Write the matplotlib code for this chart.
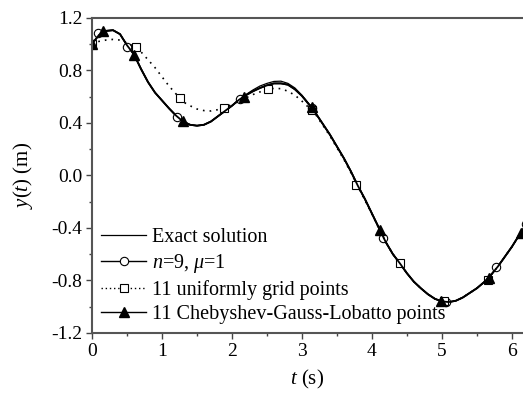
import numpy as np
import matplotlib
matplotlib.use("Agg")
import matplotlib.pyplot as plt
from matplotlib.lines import Line2D
from matplotlib.ticker import MultipleLocator, FormatStrFormatter

plt.rcParams['font.family'] = ['Liberation Serif', 'DejaVu Serif']
plt.rcParams['mathtext.fontset'] = 'custom'
plt.rcParams['mathtext.rm'] = 'Liberation Serif'
plt.rcParams['mathtext.it'] = 'Liberation Serif:italic'
plt.rcParams['axes.unicode_minus'] = False

# exact solution
t_exact = [0.0, 0.1, 0.2, 0.3, 0.4, 0.5, 0.6, 0.7, 0.8, 0.9, 1.0, 1.1, 1.2, 1.3, 1.4,
           1.5, 1.6, 1.7, 1.8, 1.9, 2.0, 2.1, 2.2, 2.3, 2.4, 2.5, 2.6, 2.7, 2.8, 2.9,
           3.0, 3.1, 3.2, 3.3, 3.4, 3.5, 3.6, 3.7, 3.8, 3.9, 4.0, 4.1, 4.2, 4.3, 4.4,
           4.5, 4.6, 4.7, 4.8, 4.9, 5.0, 5.1, 5.2, 5.3, 5.4, 5.5, 5.6, 5.7, 5.8, 5.9,
           6.0, 6.1, 6.2]
y_exact = [1.00, 1.07, 1.10, 1.105, 1.075, 0.99, 0.92, 0.81, 0.71, 0.63, 0.57, 0.51, 0.455, 0.41, 0.385,
           0.378, 0.385, 0.41, 0.45, 0.49, 0.53, 0.575, 0.615, 0.65, 0.68, 0.70, 0.715, 0.717, 0.70, 0.665,
           0.61, 0.545, 0.47, 0.39, 0.31, 0.22, 0.13, 0.03, -0.08, -0.18, -0.29, -0.40, -0.51, -0.60, -0.67,
           -0.745, -0.81, -0.86, -0.905, -0.94, -0.96, -0.965, -0.955, -0.93, -0.895, -0.86, -0.815, -0.76, -0.695, -0.62,
           -0.545, -0.46, -0.38]

# n=9, mu=1 curve (differs from the exact one only around the second peak)
t_n9 = t_exact
y_n9 = [1.00, 1.07, 1.10, 1.105, 1.075, 0.99, 0.92, 0.81, 0.71, 0.63, 0.57, 0.51, 0.455, 0.41, 0.385,
        0.378, 0.385, 0.41, 0.45, 0.49, 0.53, 0.575, 0.61, 0.64, 0.665, 0.685, 0.70, 0.70, 0.69, 0.655,
        0.605, 0.54, 0.47, 0.39, 0.31, 0.22, 0.13, 0.03, -0.08, -0.18, -0.29, -0.40, -0.51, -0.60, -0.67,
        -0.745, -0.81, -0.86, -0.905, -0.94, -0.96, -0.965, -0.955, -0.93, -0.895, -0.86, -0.815, -0.76, -0.695, -0.62,
        -0.545, -0.46, -0.38]
t_n9_pts = [0.08, 0.5, 1.22, 2.12, 3.14, 4.16, 5.06, 5.78, 6.20]
y_n9_pts = [1.08, 0.98, 0.445, 0.58, 0.51, -0.48, -0.965, -0.70, -0.37]

# 11 uniformly spaced grid points
t_uni = t_exact
y_uni = [1.00, 1.02, 1.03, 1.035, 1.03, 1.01, 0.98, 0.94, 0.88, 0.82, 0.75, 0.68, 0.62, 0.56, 0.53,
         0.505, 0.493, 0.49, 0.50, 0.517, 0.54, 0.565, 0.59, 0.615, 0.635, 0.655, 0.662, 0.66, 0.64, 0.61,
         0.565, 0.515, 0.46, 0.38, 0.30, 0.21, 0.12, 0.02, -0.085, -0.19, -0.295, -0.405, -0.51, -0.60, -0.67,
         -0.745, -0.81, -0.86, -0.905, -0.94, -0.96, -0.965, -0.955, -0.93, -0.895, -0.86, -0.815, -0.76, -0.695, -0.62,
         -0.545, -0.46, -0.38]
t_uni_pts = [0.0, 0.628, 1.257, 1.885, 2.513, 3.142, 3.770, 4.398, 5.027, 5.655, 6.283]
y_uni_pts = [1.00, 0.975, 0.585, 0.515, 0.66, 0.50, -0.07, -0.67, -0.96, -0.80, -0.31]

# 11 Chebyshev-Gauss-Lobatto points
t_cgl = t_n9
y_cgl = y_n9
t_cgl_pts = [0.0, 0.154, 0.6, 1.295, 2.17, 3.142, 4.112, 4.99, 5.68, 6.13, 6.283]
y_cgl_pts = [1.00, 1.10, 0.92, 0.41, 0.60, 0.52, -0.42, -0.96, -0.78, -0.44, -0.31]

fig = plt.figure(figsize=(5.23, 3.94), dpi=100)
ax = fig.add_axes([0.176, 0.155, 0.824, 0.8])

ax.plot(t_exact, y_exact, color='k', lw=0.9)
ax.plot(t_n9, y_n9, color='k', lw=1.3)
ax.plot(t_n9_pts, y_n9_pts, ls='none', marker='o', ms=6, mfc='white', mec='k', mew=0.8)
ax.plot(t_uni, y_uni, color='k', lw=1.2, ls=(0, (1, 3)))
ax.plot(t_uni_pts, y_uni_pts, ls='none', marker='s', ms=6, mfc='white', mec='k', mew=0.8)
ax.plot(t_cgl, y_cgl, color='k', lw=1.3)
ax.plot(t_cgl_pts, y_cgl_pts, ls='none', marker='^', ms=7, mfc='k', mec='k')

ax.set_xlim(0, 6.16)
ax.set_ylim(-1.2, 1.2)
ax.xaxis.set_major_locator(MultipleLocator(1))
ax.xaxis.set_minor_locator(MultipleLocator(0.5))
ax.yaxis.set_major_locator(MultipleLocator(0.4))
ax.yaxis.set_minor_locator(MultipleLocator(0.2))
ax.yaxis.set_major_formatter(FormatStrFormatter('%.1f'))
ax.tick_params(which='major', direction='out', length=4, width=1, color='#444444', labelsize=14, pad=3)
ax.tick_params(which='minor', direction='out', length=2.5, width=1, color='#444444')
ax.spines['right'].set_visible(False)
for s in ['left', 'bottom', 'top']:
    ax.spines[s].set_color('#555555')
    ax.spines[s].set_linewidth(1.5)

ax.set_xlabel(r'$t$ (s)', fontsize=15, labelpad=6)
ax.set_ylabel(r'$y$($t$) (m)', fontsize=15, labelpad=12)

handles = [
    Line2D([], [], color='k', lw=0.9),
    Line2D([], [], color='k', lw=1.0, marker='o', ms=6, mfc='white', mec='k', mew=0.8),
    Line2D([], [], color='k', lw=1.0, ls=(0, (1, 2)), marker='s', ms=6, mfc='white', mec='k', mew=0.8),
    Line2D([], [], color='k', lw=1.0, marker='^', ms=7, mfc='k', mec='k'),
]
labels = ['Exact solution', r'$n$=9, $\mu$=1', '11 uniformly grid points',
          '11 Chebyshev-Gauss-Lobatto points']
ax.legend(handles, labels, loc='lower left', bbox_to_anchor=(0.0, 0.0), frameon=False,
          fontsize=14.5, handlelength=2.25, handletextpad=0.3, labelspacing=0.25,
          borderaxespad=0.15, borderpad=0.3, numpoints=1)

fig.savefig('out.png', dpi=100)
